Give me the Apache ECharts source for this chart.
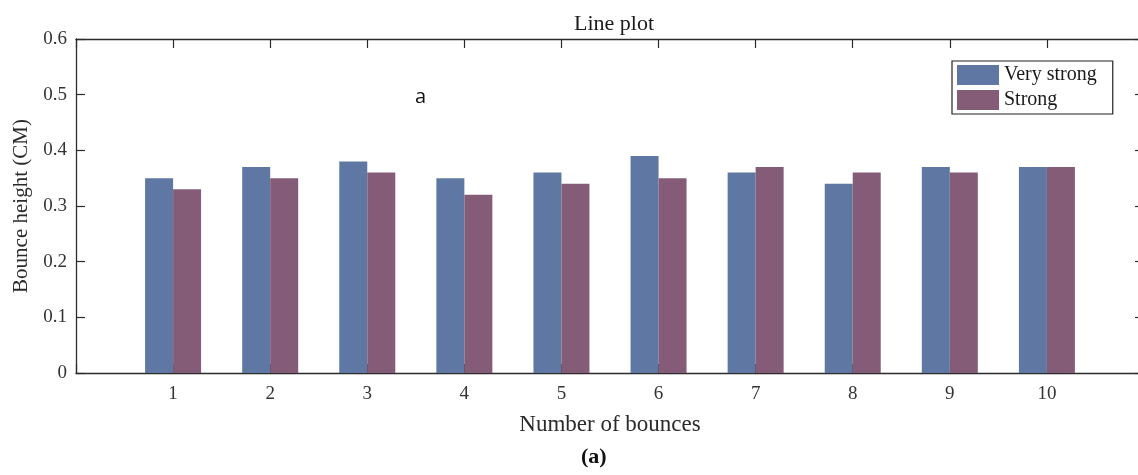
<!DOCTYPE html>
<html>
<head>
<meta charset="utf-8">
<script src="https://cdn.jsdelivr.net/npm/echarts@6/dist/echarts.min.js"></script>
<style>
html,body{margin:0;padding:0;background:#fff;overflow:hidden;}
#chart{width:1138px;height:475px;}
</style>
</head>
<body>
<div id="chart"></div>
<script>
var categories = [1, 2, 3, 4, 5, 6, 7, 8, 9, 10];
var veryStrong = [0.35, 0.37, 0.38, 0.35, 0.36, 0.39, 0.36, 0.34, 0.37, 0.37];
var strong = [0.33, 0.35, 0.36, 0.32, 0.34, 0.35, 0.37, 0.36, 0.36, 0.37];
var seriesNames = ['Very strong', 'Strong'];
var yTicks = [0, 0.1, 0.2, 0.3, 0.4, 0.5, 0.6];

var SERIF = '"Liberation Serif", "Times New Roman", serif';
var chart = echarts.init(document.getElementById('chart'), null, {renderer: 'canvas'});

function pairs(vals) {
  return categories.map(function (c, i) { return [c, vals[i]]; });
}

var axisLineStyle = {color: '#2b2b2b', width: 1.3};

chart.setOption({
  animation: false,
  backgroundColor: '#ffffff',
  title: {
    text: 'Line plot',
    left: 609,
    top: 8,
    textAlign: 'center',
    textStyle: {fontFamily: SERIF, fontSize: 22, fontWeight: 'normal', color: '#1a1a1a'}
  },
  legend: {
    data: seriesNames,
    orient: 'vertical',
    left: 952,
    top: 61,
    icon: 'rect',
    itemWidth: 42,
    itemHeight: 20,
    itemGap: 5,
    padding: [4, 16, 4, 5],
    borderColor: '#222',
    borderWidth: 1.2,
    backgroundColor: '#fff',
    textStyle: {fontFamily: SERIF, fontSize: 20, color: '#1a1a1a'}
  },
  grid: {left: 76, width: 1068, top: 39, bottom: 102, containLabel: false, outerBoundsMode: 'none'},
  xAxis: [{
    type: 'value',
    min: 0, max: 11, interval: 1,
    name: 'Number of bounces',
    nameLocation: 'middle',
    nameGap: 40,
    nameTextStyle: {fontFamily: SERIF, fontSize: 23, color: '#2a2a2a'},
    axisLine: {show: true, onZero: false, lineStyle: axisLineStyle},
    axisTick: {show: true, inside: true, length: 9, lineStyle: {color: '#2b2b2b', width: 1.2}},
    axisLabel: {
      fontFamily: SERIF, fontSize: 19, color: '#333', margin: 12,
      formatter: function (v) { return categories.indexOf(v) >= 0 ? String(v) : ''; }
    },
    splitLine: {show: false}
  }, {
    type: 'value',
    position: 'top',
    min: 0, max: 11, interval: 1,
    axisLine: {show: true, onZero: false, lineStyle: axisLineStyle},
    axisTick: {show: true, inside: true, length: 9, lineStyle: {color: '#2b2b2b', width: 1.2}},
    axisLabel: {show: false},
    splitLine: {show: false}
  }],
  yAxis: [{
    type: 'value',
    min: yTicks[0], max: yTicks[yTicks.length - 1], interval: 0.1,
    name: 'Bounce height (CM)',
    nameLocation: 'middle',
    nameGap: 42,
    nameTextStyle: {fontFamily: SERIF, fontSize: 21, color: '#2a2a2a'},
    axisLine: {show: true, onZero: false, lineStyle: axisLineStyle},
    axisTick: {show: true, inside: true, length: 9, lineStyle: {color: '#2b2b2b', width: 1.2}},
    axisLabel: {
      fontFamily: SERIF, fontSize: 19, color: '#333', margin: 9,
      formatter: function (v) { return v === 0 ? '0' : v.toFixed(1); }
    },
    splitLine: {show: false}
  }, {
    type: 'value',
    position: 'right',
    min: yTicks[0], max: yTicks[yTicks.length - 1], interval: 0.1,
    axisLine: {show: true, onZero: false, lineStyle: axisLineStyle},
    axisTick: {show: true, inside: true, length: 9, lineStyle: {color: '#2b2b2b', width: 1.2}},
    axisLabel: {show: false},
    splitLine: {show: false}
  }],
  series: [{
    name: seriesNames[0],
    type: 'bar',
    xAxisIndex: 0, yAxisIndex: 0,
    data: pairs(veryStrong),
    barWidth: 28,
    barGap: '0%',
    itemStyle: {color: '#5e78a3'},
    z: 1
  }, {
    name: seriesNames[1],
    type: 'bar',
    xAxisIndex: 0, yAxisIndex: 0,
    data: pairs(strong),
    barWidth: 28,
    barGap: '0%',
    itemStyle: {color: '#845c78'},
    z: 1
  }],
  graphic: [{
    type: 'text',
    left: 415, top: 87,
    style: {text: 'a', font: '20px "Open Sans", "Liberation Sans", sans-serif', fill: '#111'}
  }, {
    type: 'text',
    left: 581, top: 446,
    style: {text: '(a)', font: 'bold 22px ' + SERIF, fill: '#111'}
  }]
});
</script>
</body>
</html>
